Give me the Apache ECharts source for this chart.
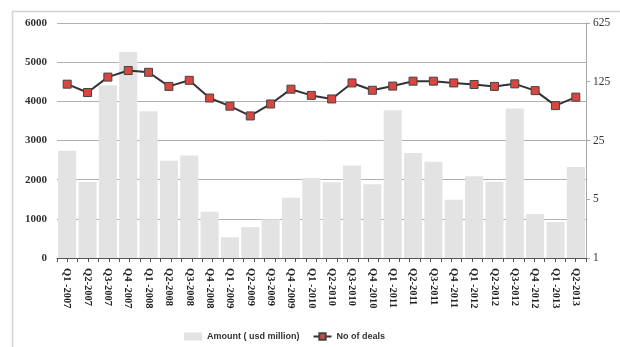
<!DOCTYPE html>
<html><head><meta charset="utf-8">
<script src="https://cdn.jsdelivr.net/npm/echarts@6/dist/echarts.min.js"></script>
<style>html,body{margin:0;padding:0;background:#fff}#c{width:620px;height:347px}</style>
</head><body><div id="c"></div>
<script>
const categories = ["Q1 -2007","Q2-2007","Q3-2007","Q4 -2007","Q1 -2008","Q2-2008","Q3-2008","Q4 -2008","Q1 -2009","Q2-2009","Q3-2009","Q4 -2009","Q1 -2010","Q2-2010","Q3-2010","Q4 -2010","Q1 -2011","Q2-2011","Q3-2011","Q4 -2011","Q1 -2012","Q2-2012","Q3-2012","Q4 -2012","Q1 -2013","Q2-2013"];
const amount = [2740,1940,4410,5260,3750,2480,2620,1180,530,790,990,1540,2045,1935,2360,1885,3770,2680,2460,1490,2090,1950,3820,1120,920,2325];
const deals = [117,93,142,170,162,110,130,80,64,49,68,102,86,78,121,99,111,127,127,121,116,110,118,98,65,82];
const leftTicks = [0,1000,2000,3000,4000,5000,6000];
const rightTicks = [1,5,25,125,625];
const halfTicks = categories.flatMap(c => [c + "a", c + "b"]);

const chart = echarts.init(document.getElementById('c'), null, {renderer: 'canvas'});
chart.setOption({
  animation: false,
  graphic: [{type: 'rect', shape: {x: 12.5, y: 11.5, width: 700, height: 400}, style: {fill: 'none', stroke: '#d4d4d4', lineWidth: 1.5}, silent: true, z: -1}],
  grid: {left: 57, right: 34, top: 23, bottom: 89, containLabel: false},
  legend: {
    left: 179, top: 327, itemGap: 13, itemWidth: 18, itemHeight: 8,
    textStyle: {fontFamily: 'Liberation Sans Narrow, Liberation Sans, Arial', fontWeight: 'bold', fontSize: 9, color: '#333'},
    data: [{name: 'Amount ( usd million)', icon: 'rect'}, {name: 'No of deals'}]
  },
  xAxis: [{
    type: 'category', data: categories, boundaryGap: true,
    axisLine: {lineStyle: {color: '#555', width: 1}},
    axisTick: {show: false},
    axisLabel: {rotate: -90, interval: 0, margin: 10, fontFamily: 'Liberation Serif', fontWeight: 'bold', fontSize: 10.5, color: '#222'}
  }, {
    type: 'category', data: halfTicks, boundaryGap: false, position: 'bottom',
    axisLine: {show: false}, axisLabel: {show: false},
    axisTick: {show: true, interval: 0, length: 4, lineStyle: {color: '#555'}}
  }],
  yAxis: [{
    type: 'value', min: 0, max: 6000, interval: 1000,
    axisLine: {show: false}, axisTick: {show: false},
    splitLine: {lineStyle: {color: '#b0b0b0', width: 1}},
    axisLabel: {margin: 10, fontFamily: 'Liberation Serif', fontWeight: 'bold', fontSize: 11, color: '#333',
      formatter: v => leftTicks.includes(v) ? String(v) : ''}
  }, {
    type: 'log', logBase: 5, min: 1, max: 625, position: 'right',
    axisLine: {show: true, lineStyle: {color: '#a8a8a8'}},
    axisTick: {show: true, length: 4, lineStyle: {color: '#a8a8a8'}},
    splitLine: {show: false},
    axisLabel: {margin: 7, fontFamily: 'Liberation Serif', fontSize: 11.5, color: '#333',
      formatter: v => rightTicks.includes(Math.round(v)) ? String(Math.round(v)) : ''}
  }],
  series: [{
    name: 'Amount ( usd million)', type: 'bar', data: amount, xAxisIndex: 0, yAxisIndex: 0,
    barCategoryGap: '11%', itemStyle: {color: '#e3e3e3'}
  }, {
    name: 'No of deals', type: 'line', data: deals, xAxisIndex: 0, yAxisIndex: 1,
    symbol: 'rect', symbolSize: 8,
    lineStyle: {color: '#333', width: 2},
    itemStyle: {color: '#d9463f', borderColor: '#444', borderWidth: 1}
  }]
});
</script></body></html>
